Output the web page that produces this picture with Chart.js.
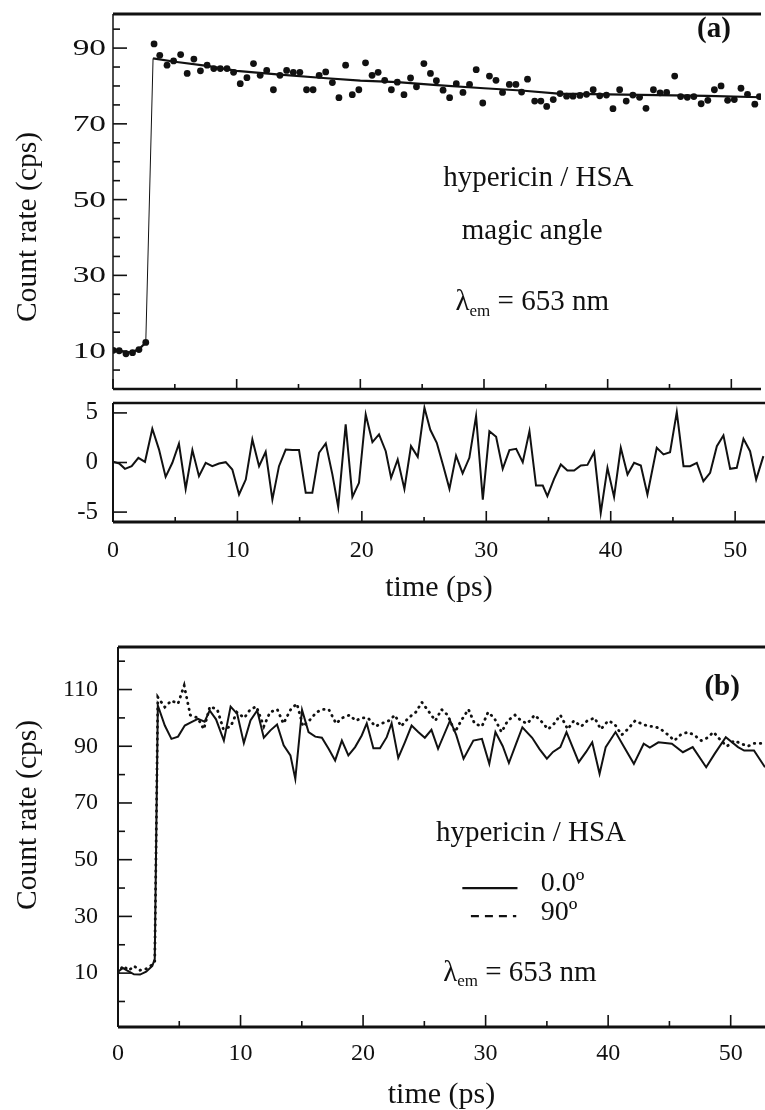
<!DOCTYPE html>
<html>
<head>
<meta charset="utf-8">
<script src="https://cdn.jsdelivr.net/npm/chart.js@4.4.1/dist/chart.umd.min.js"></script>
<style>
  html, body { margin: 0; padding: 0; background: #fff; }
  #wrap { position: relative; width: 765px; height: 1110px; overflow: hidden; }
  #wrap canvas { position: absolute; left: 0; }
</style>
</head>
<body>
<div id="wrap">
  <canvas id="panelA" width="765" height="396" style="top:0;width:765px;height:396px"></canvas>
  <canvas id="panelR" width="765" height="214" style="top:396px;width:765px;height:214px"></canvas>
  <canvas id="panelB" width="765" height="498" style="top:612px;width:765px;height:498px"></canvas>
</div>
<script>
// ---- panel (a): magic angle decay (dots) + fit (line) ----
const timeA = [0.02, 0.50, 1.05, 1.58, 2.10, 2.65,
  3.32, 3.78, 4.37, 4.90, 5.47, 6.00, 6.54, 7.07, 7.61, 8.15, 8.68, 9.22, 9.75, 10.29,
  10.83, 11.36, 11.90, 12.43, 12.97, 13.50, 14.04, 14.58, 15.11, 15.65, 16.18, 16.67, 17.20,
  17.74, 18.27, 18.81, 19.35, 19.88, 20.42, 20.95, 21.44, 21.97, 22.51, 22.99, 23.53, 24.06,
  24.54, 25.14, 25.67, 26.15, 26.69, 27.22, 27.76, 28.30, 28.83, 29.37, 29.90, 30.44, 30.97,
  31.50, 32.05, 32.58, 33.04, 33.52, 34.10, 34.60, 35.07, 35.60, 36.15, 36.68, 37.20, 37.76,
  38.29, 38.83, 39.36, 39.90, 40.43, 40.97, 41.50, 42.04, 42.58, 43.10, 43.70, 44.24, 44.77,
  45.42, 45.90, 46.44, 46.97, 47.56, 48.10, 48.63, 49.17, 49.70, 50.24, 50.78, 51.31, 51.90, 52.27]
const countA = [10.2, 10.1, 9.3, 9.6, 10.4, 12.3,
  91.1, 88.1, 85.5, 86.6, 88.3, 83.3, 87.1, 84.0, 85.5, 84.6, 84.6, 84.6, 83.6, 80.6,
  82.2, 85.9, 82.8, 84.1, 79.0, 82.8, 84.1, 83.6, 83.6, 79.0, 79.0, 82.8, 83.7,
  80.9, 76.9, 85.5, 77.7, 79.0, 86.1, 82.8, 83.6, 81.5, 79.0, 81.0, 77.7, 82.1,
  79.8, 85.9, 83.3, 81.4, 78.9, 76.9, 80.6, 78.3, 80.4, 84.3, 75.5, 82.6, 81.5,
  78.3, 80.4, 80.4, 78.4, 81.8, 76.0, 76.0, 74.6, 76.4, 78.0, 77.3, 77.3, 77.5,
  77.8, 79.0, 77.4, 77.6, 74.0, 79.0, 76.0, 77.6, 77.0, 74.1, 79.0, 78.2, 78.3,
  82.6, 77.2, 77.0, 77.2, 75.3, 76.2, 79.0, 80.0, 76.2, 76.4, 79.4, 77.8, 75.2, 77.2]
const fitTimeA = [0, 0.5, 1.05, 1.58, 2.1, 2.65, 3.24, 5, 7.6, 10, 13.5, 17, 20, 23, 26.2, 30, 33, 36, 40, 44, 48, 52.6]
const fitA = [10.4, 10.2, 9.6, 9.8, 10.5, 12.3, 87.3, 86.4, 85.3, 84.0, 83.0, 82.1, 81.4, 81.0, 80.2, 79.4, 78.8, 78.0, 77.8, 77.6, 77.4, 77.0]

// ---- residuals under (a) ----
const resTime = [0, 0.5, 0.96, 1.5, 2.04, 2.57, 3.16, 3.7, 4.23, 4.77, 5.3, 5.84, 6.38, 6.91,
  7.45, 7.98, 8.52, 9.06, 9.59, 10.13, 10.67, 11.2, 11.74, 12.27, 12.81, 13.34, 13.88, 14.41,
  14.95, 15.49, 16.02, 16.56, 17.1, 17.63, 18.1, 18.7, 19.24, 19.77, 20.31, 20.85, 21.38, 21.92,
  22.35, 22.88, 23.42, 23.95, 24.49, 25.03, 25.5, 26.02, 26.55, 27.04, 27.57, 28.1, 28.64, 29.18,
  29.72, 30.25, 30.79, 31.32, 31.86, 32.4, 32.93, 33.47, 34.0, 34.54, 34.91, 35.45, 35.99, 36.52,
  37.06, 37.6, 38.13, 38.67, 39.2, 39.74, 40.27, 40.81, 41.35, 41.88, 42.42, 42.95, 43.7, 44.24,
  44.77, 45.31, 45.85, 46.38, 46.92, 47.45, 47.99, 48.53, 49.06, 49.6, 50.13, 50.67, 51.2, 51.69, 52.27]
const resA = [0.07, -0.1, -0.64, -0.37, 0.47, 0.07, 3.4, 1.3, -1.45, -0.03, 1.89, -2.66, 1.25, -1.38,
  -0.03, -0.37, -0.1, 0.03, -0.71, -3.23, -1.72, 2.32, -0.37, 1.08, -3.74, -0.37, 1.31, 1.25,
  1.25, -3.06, -3.06, 0.98, 1.92, -1.2, -4.48, 3.84, -3.47, -2.05, 4.85, 2.05, 2.83, 1.14,
  -1.55, 0.3, -2.66, 1.65, 0.57, 5.52, 3.3, 1.99, -0.37, -2.66, 0.7, -1.1, 0.47, 4.68,
  -3.74, 3.16, 2.59, -0.64, 1.25, 1.38, 0.03, 3.16, -2.32, -2.32, -3.4, -1.65, -0.2, -0.81,
  -0.81, -0.3, -0.24, 1.04, -5.08, -0.54, -3.47, 1.48, -1.21, -0.03, -0.3, -3.23, 1.48, 0.81,
  1.04, 5.08, -0.37, -0.37, -0.03, -1.89, -1.04, 1.65, 2.73, -0.64, -0.54, 2.39, 1.14, -1.72, 0.64]

// ---- panel (b): 0.0 deg (solid) and 90 deg (dotted) ----
const timeB0 = [0, 0.4, 0.8, 1.3, 1.8, 2.3, 2.8, 3.0, 3.25, 3.82, 4.36, 4.9, 5.45, 5.99, 6.53, 7.07,
  7.48, 8.0, 8.64, 9.19, 9.73, 10.27, 10.81, 11.36, 11.9, 12.44, 12.98, 13.52, 14.07, 14.47, 15.02,
  15.55, 16.1, 16.64, 17.2, 17.72, 18.27, 18.8, 19.35, 19.89, 20.3, 20.84, 21.38, 21.93, 22.33,
  22.87, 23.41, 23.96, 24.5, 25.04, 25.58, 26.12, 27.1, 27.6, 28.2, 29.0, 29.7, 30.3, 30.8, 31.4,
  31.9, 32.5, 33.0, 33.8, 34.4, 35.0, 35.5, 36.1, 36.6, 37.6, 38.2, 38.7, 39.3, 39.8, 40.6, 41.3,
  42.1, 42.9, 43.4, 44.1, 45.2, 46.1, 46.9, 48.0, 48.7, 49.6, 50.6, 51.1, 51.9, 52.8]
const par0B = [10.5, 11.8, 10.8, 9.6, 9.5, 10.5, 12.5, 15, 104.4, 97.3, 92.6, 93.4, 97.3, 98.5, 99.7, 98.7,
  102.6, 99.5, 92.0, 104.0, 101.4, 91.1, 99.1, 102.6, 93.0, 95.6, 97.7, 90.3, 86.8, 78.5, 102.8,
  95.0, 93.4, 93.0, 89.0, 85.0, 92.0, 86.8, 89.7, 93.8, 98.1, 89.3, 89.3, 93.2, 98.1,
  85.9, 91.4, 97.3, 95.0, 93.0, 95.8, 89.1, 99.1, 94.0, 85.6, 92.0, 92.6, 83.8, 95.0, 90.0,
  84.1, 91.0, 96.7, 93.0, 89.0, 85.6, 88.0, 89.7, 95.0, 84.4, 88.0, 91.4, 80.3, 89.7, 95.0, 89.7,
  83.8, 90.9, 89.5, 91.4, 90.9, 87.9, 89.7, 82.6, 87.4, 93.2, 89.7, 88.5, 88.5, 82.6]
const timeB90 = [0, 0.4, 0.9, 1.3, 1.8, 2.3, 2.8, 3.0, 3.25, 3.82, 4.36, 4.9, 5.4, 5.9, 6.5, 7.0, 7.5,
  8.1, 8.6, 9.2, 9.7, 10.3, 10.8, 11.3, 11.9, 12.4, 13.0, 13.5, 14.1, 14.6, 15.1, 15.6, 16.2, 16.7,
  17.2, 17.8, 18.3, 18.9, 19.4, 19.9, 20.4, 21.0, 21.5, 22.1, 22.6, 23.1, 23.7, 24.3, 24.8, 25.3,
  25.9, 26.4, 26.9, 27.5, 28.0, 28.6, 29.1, 29.7, 30.2, 30.7, 31.3, 31.8, 32.4, 32.9, 33.4, 34.0,
  34.5, 35.1, 35.6, 36.1, 36.7, 37.2, 37.8, 38.3, 38.9, 39.4, 40.0, 40.5, 41.1, 41.6, 42.2, 42.7,
  43.3, 43.8, 44.3, 44.9, 45.4, 45.9, 46.5, 47.0, 47.6, 48.1, 48.6, 49.2, 49.7, 50.3, 50.8, 51.4, 51.9, 52.8]
const perp90B = [10, 12.5, 11, 12.5, 11, 11.5, 13, 14, 107.3, 103.8, 106.1, 105.0, 111.4, 101, 100, 96, 104,
  103, 96, 97, 102, 100, 103, 104, 97, 102, 103, 98, 103, 105, 97, 99, 102, 103,
  103, 98, 100, 101, 99, 100, 100, 97, 98, 99, 101, 97, 100, 102, 105.5, 102.6,
  99, 103, 101, 95, 99, 103, 98, 97, 102, 100, 95, 99, 101, 99, 98, 101,
  99, 96, 98, 101, 96, 99, 97, 99, 100, 96, 99, 98, 94, 96, 99, 98,
  97, 97, 96, 94, 92, 94, 95, 94, 92, 93, 95, 92, 90, 92, 91, 90, 91, 91]

// ---- axis ticks ----
const xMajor = [0, 10, 20, 30, 40, 50]
const xMinor = [5, 15, 25, 35, 45]
const yMajorA = [10, 30, 50, 70, 90]
const yMinorA = [5, 15, 20, 25, 35, 40, 45, 55, 60, 65, 75, 80, 85, 95]
const yMajorR = [-5, 0, 5]
const yMajorB = [10, 30, 50, 70, 90, 110]
const yMinorB = [0, 20, 40, 60, 80, 100, 120]

const INK = '#111'
const SERIF = '"Liberation Serif", "DejaVu Serif", serif'
const pts = (xs, ys) => xs.map((x, i) => ({ x, y: ys[i] }))
const fixTicks = (vals) => (s) => { s.ticks = vals.map((v) => ({ value: v })) }
// pin the axis box and drop the automatic label padding so the plot area lands where it should
const pinBox = (w, h) => (s) => {
  if (w != null) s.width = w
  if (h != null) s.height = h
  s.paddingTop = s.paddingBottom = s.paddingLeft = s.paddingRight = 0
}

// frame lines + inward tick marks (+ optional stretched y labels)
const frame = {
  id: 'frame',
  afterDraw(chart, args, opts) {
    const { ctx, chartArea: a, scales: { x, y } } = chart
    ctx.save()
    ctx.strokeStyle = INK
    for (const [side, w] of opts.sides) {
      ctx.lineWidth = w
      ctx.beginPath()
      if (side === 'top') { ctx.moveTo(a.left, a.top); ctx.lineTo(a.right, a.top) }
      if (side === 'bottom') { ctx.moveTo(a.left, a.bottom); ctx.lineTo(a.right, a.bottom) }
      if (side === 'left') { ctx.moveTo(a.left, a.top); ctx.lineTo(a.left, a.bottom) }
      ctx.stroke()
    }
    ctx.lineWidth = 1.6
    const tick = (vals, len, axis) => vals.forEach((v) => {
      ctx.beginPath()
      if (axis === 'x') {
        const px = x.getPixelForValue(v)
        ctx.moveTo(px, a.bottom); ctx.lineTo(px, a.bottom - len)
      } else {
        const py = y.getPixelForValue(v)
        ctx.moveTo(a.left, py); ctx.lineTo(a.left + len, py)
      }
      ctx.stroke()
    })
    tick(opts.xMajor || [], opts.xMajorLen || 0, 'x')
    tick(opts.xMinor || [], opts.xMinorLen || 0, 'x')
    tick(opts.yMajor || [], 14, 'y')
    tick(opts.yMinor || [], 7, 'y')
    if (opts.yLabels) {
      const { values, size, stretch, gap } = opts.yLabels
      ctx.fillStyle = INK
      ctx.font = `${size}px ${SERIF}`
      ctx.textAlign = 'right'
      ctx.textBaseline = 'middle'
      values.forEach((v) => {
        ctx.save()
        ctx.translate(a.left - gap, y.getPixelForValue(v))
        ctx.scale(stretch, 1)
        ctx.fillText(String(v), 0, 1)
        ctx.restore()
      })
    }
    ctx.restore()
  },
}

const drawLambda = (ctx, cx, cy, size) => {
  const big = `${size}px ${SERIF}`
  const small = `${Math.round(size * 0.6)}px ${SERIF}`
  ctx.font = big
  const w1 = ctx.measureText('\u03bb').width
  const w3 = ctx.measureText(' = 653 nm').width
  ctx.font = small
  const w2 = ctx.measureText('em').width
  let x = cx - (w1 + w2 + w3) / 2
  ctx.textAlign = 'left'
  ctx.font = big
  ctx.fillText('\u03bb', x, cy)
  x += w1
  ctx.font = small
  ctx.fillText('em', x, cy + size * 0.3)
  x += w2
  ctx.font = big
  ctx.fillText(' = 653 nm', x, cy)
}

// text notes: data coordinates, or canvas pixels when px is set
const notes = {
  id: 'notes',
  afterDraw(chart, args, opts) {
    const { ctx, scales: { x, y } } = chart
    ctx.save()
    ctx.fillStyle = INK
    ctx.strokeStyle = INK
    ctx.textBaseline = 'middle'
    for (const n of opts.items) {
      if (n.px != null) {
        ctx.save()
        ctx.translate(n.px, n.py)
        ctx.rotate(-Math.PI / 2)
        ctx.font = `${n.size}px ${SERIF}`
        ctx.textAlign = 'center'
        ctx.fillText(n.text, 0, 0)
        ctx.restore()
        continue
      }
      const px = x.getPixelForValue(n.x)
      const py = y.getPixelForValue(n.y)
      if (n.lambda) { drawLambda(ctx, px, py, n.size); continue }
      if (n.sample) {
        ctx.lineWidth = 2.2
        ctx.setLineDash(n.dash || [])
        ctx.beginPath()
        ctx.moveTo(px, py)
        ctx.lineTo(x.getPixelForValue(n.x2), py)
        ctx.stroke()
        ctx.setLineDash([])
        continue
      }
      ctx.font = `${n.bold ? 'bold ' : ''}${n.size}px ${SERIF}`
      ctx.textAlign = n.align || 'center'
      ctx.fillText(n.text, px, py)
    }
    ctx.restore()
  },
}

const tickFont = (size) => ({ family: SERIF, size })
const baseOptions = (padTop) => ({
  responsive: false,
  animation: false,
  events: [],
  layout: { padding: { top: padTop, left: 0, right: 0, bottom: 0 } },
})
const hidden = { grid: { display: false, drawTicks: false }, border: { display: false } }

// panel (a)
new Chart(document.getElementById('panelA'), {
  type: 'line',
  data: {
    datasets: [
      {
        data: pts(fitTimeA, fitA),
        borderColor: INK,
        borderWidth: 2.2,
        pointRadius: 0,
        segment: { borderWidth: (c) => (c.p1.parsed.y - c.p0.parsed.y > 30 ? 1 : 2.2) },
      },
      {
        type: 'scatter',
        data: pts(timeA, countA),
        showLine: false,
        pointRadius: 3.4,
        backgroundColor: INK,
        borderWidth: 0,
      },
    ],
  },
  options: {
    ...baseOptions(14),
    plugins: {
      legend: { display: false },
      tooltip: { enabled: false },
      frame: {
        sides: [['top', 3], ['left', 1.5], ['bottom', 2.5]],
        xMajor: xMajor, xMinor: xMinor, xMajorLen: 10, xMinorLen: 5,
        yMajor: yMajorA, yMinor: yMinorA,
        yLabels: { values: yMajorA, size: 23, stretch: 1.45, gap: 7 },
      },
      notes: {
        items: [
          { text: 'Count rate (cps)', px: 28, py: 227, size: 29.5 },
          { text: '(a)', x: 48.6, y: 95.0, size: 29, bold: true },
          { text: 'hypericin / HSA', x: 34.4, y: 55.6, size: 29 },
          { text: 'magic angle', x: 33.9, y: 41.6, size: 29 },
          { lambda: true, x: 33.9, y: 22.8, size: 29 },
        ],
      },
    },
    scales: {
      x: { type: 'linear', min: 0, max: 52.4, ...hidden, ticks: { display: false }, afterFit: pinBox(null, 7) },
      y: { min: 0, max: 99, ...hidden, afterBuildTicks: fixTicks(yMajorA), ticks: { display: false }, afterFit: pinBox(113, null) },
    },
  },
  plugins: [frame, notes],
})

// residuals
new Chart(document.getElementById('panelR'), {
  type: 'line',
  data: {
    datasets: [{ data: pts(resTime, resA), borderColor: INK, borderWidth: 2, pointRadius: 0 }],
  },
  options: {
    ...baseOptions(7),
    plugins: {
      legend: { display: false },
      tooltip: { enabled: false },
      frame: { sides: [['top', 2.5], ['left', 2], ['bottom', 3]], xMajor: xMajor, xMinor: xMinor, xMajorLen: 11, xMinorLen: 5, yMajor: yMajorR },
      notes: { items: [] },
    },
    scales: {
      x: {
        type: 'linear', min: 0, max: 52.4, ...hidden,
        afterBuildTicks: fixTicks(xMajor),
        ticks: { color: INK, font: tickFont(24), padding: 14, maxRotation: 0 },
        title: { display: true, text: 'time (ps)', color: INK, font: tickFont(30), padding: { top: 0, bottom: 4 } },
        afterFit: pinBox(null, 88),
      },
      y: {
        min: -6, max: 6, ...hidden,
        afterBuildTicks: fixTicks(yMajorR),
        ticks: { color: INK, font: tickFont(25), padding: 15 },
        afterFit: pinBox(113, null),
      },
    },
  },
  plugins: [frame, notes],
})

// panel (b)
new Chart(document.getElementById('panelB'), {
  type: 'line',
  data: {
    datasets: [
      { data: pts(timeB0, par0B), borderColor: INK, borderWidth: 2, pointRadius: 0 },
      {
        data: pts(timeB90, perp90B), borderColor: INK, borderWidth: 2.8, pointRadius: 0,
        borderDash: [0.5, 5.5], borderCapStyle: 'round',
      },
    ],
  },
  options: {
    ...baseOptions(35),
    plugins: {
      legend: { display: false },
      tooltip: { enabled: false },
      frame: { sides: [['top', 3], ['left', 2], ['bottom', 3]], xMajor: xMajor.slice(1), xMinor: xMinor, xMajorLen: 12, xMinorLen: 6, yMajor: yMajorB, yMinor: yMinorB },
      notes: {
        items: [
          { text: 'Count rate (cps)', px: 28, py: 203, size: 29.5 },
          { text: '(b)', x: 49.3, y: 110.7, size: 29, bold: true },
          { text: 'hypericin / HSA', x: 33.7, y: 59.3, size: 29 },
          { sample: true, x: 28.1, x2: 32.6, y: 40.0 },
          { text: '0.0\u00ba', x: 34.5, y: 41.7, size: 28, align: 'left' },
          { sample: true, x: 28.8, x2: 32.5, y: 30.1, dash: [8, 6] },
          { text: '90\u00ba', x: 34.5, y: 31.5, size: 28, align: 'left' },
          { lambda: true, x: 32.8, y: 10, size: 29 },
        ],
      },
    },
    scales: {
      x: {
        type: 'linear', min: 0, max: 52.8, ...hidden,
        afterBuildTicks: fixTicks(xMajor),
        ticks: { color: INK, font: tickFont(24), padding: 12, maxRotation: 0 },
        title: { display: true, text: 'time (ps)', color: INK, font: { family: SERIF, size: 30, lineHeight: 1 }, padding: { top: 0, bottom: 0 } },
        afterFit: pinBox(null, 83),
      },
      y: {
        min: -9, max: 125, ...hidden,
        afterBuildTicks: fixTicks(yMajorB),
        ticks: { color: INK, font: tickFont(24), padding: 20 },
        afterFit: pinBox(118, null),
      },
    },
  },
  plugins: [frame, notes],
})
</script>
</body>
</html>
